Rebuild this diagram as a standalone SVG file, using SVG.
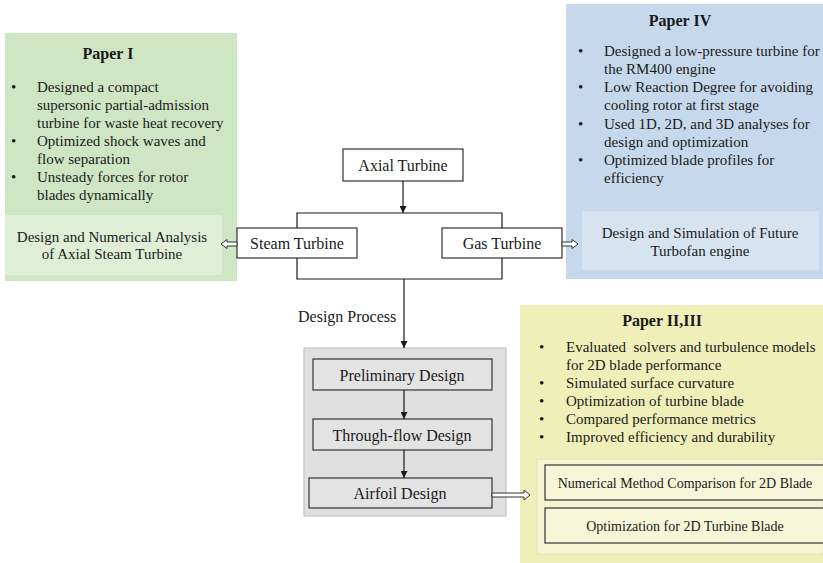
<svg xmlns="http://www.w3.org/2000/svg" width="823" height="563" viewBox="0 0 823 563">
<style>
  text { font-family: "Liberation Serif", "Times New Roman", serif; fill: #1a1a1a; }
  .title { font-size: 16px; font-weight: bold; text-anchor: middle; }
  .bul { font-size: 15px; }
  .lbl { font-size: 16px; text-anchor: middle; }
  .sub { font-size: 15px; text-anchor: middle; }
  .sm { font-size: 14px; text-anchor: middle; }
  .box { fill: #ffffff; stroke: #333333; stroke-width: 1.2; }
  .gbox { fill: #e3e3e3; stroke: #333333; stroke-width: 1.2; }
  .ybox { fill: #f6f6d8; stroke: #333333; stroke-width: 1.2; }
  .line { fill: none; stroke: #1a1a1a; stroke-width: 1.2; }
  .hollow { fill: #ffffff; stroke: #333333; stroke-width: 1; }
</style>
<defs>
  <marker id="ah" viewBox="0 0 10 10" refX="10" refY="5" markerWidth="7" markerHeight="7" markerUnits="userSpaceOnUse" orient="auto">
    <path d="M0,0 L10,5 L0,10 Z" fill="#1a1a1a"/>
  </marker>
</defs>

<g id="paper1">
  <rect x="5" y="33" width="232" height="248" fill="#cfe6c4"/>
  <rect x="5" y="215" width="217" height="60" fill="#deefd6"/>
  <text class="title" x="108" y="59">Paper I</text>
  <text class="bul" x="11" y="92">•</text>
  <text class="bul" x="37" y="92">Designed a compact</text>
  <text class="bul" x="37" y="110">supersonic partial-admission</text>
  <text class="bul" x="37" y="128">turbine for waste heat recovery</text>
  <text class="bul" x="11" y="146">•</text>
  <text class="bul" x="37" y="146">Optimized shock waves and</text>
  <text class="bul" x="37" y="164">flow separation</text>
  <text class="bul" x="11" y="182">•</text>
  <text class="bul" x="37" y="182">Unsteady forces for rotor</text>
  <text class="bul" x="37" y="200">blades dynamically</text>
  <text class="sub" x="112" y="242">Design and Numerical Analysis</text>
  <text class="sub" x="112" y="259">of Axial Steam Turbine</text>
</g>

<g id="paper4">
  <rect x="566" y="4" width="257" height="275" fill="#c6d9ec"/>
  <rect x="582" y="211" width="237" height="59" fill="#d6e4f1"/>
  <text class="title" x="680" y="26">Paper IV</text>
  <text class="bul" x="578" y="56">•</text>
  <text class="bul" x="604" y="56">Designed a low-pressure turbine for</text>
  <text class="bul" x="604" y="74">the RM400 engine</text>
  <text class="bul" x="578" y="92">•</text>
  <text class="bul" x="604" y="92">Low Reaction Degree for avoiding</text>
  <text class="bul" x="604" y="110">cooling rotor at first stage</text>
  <text class="bul" x="578" y="129">•</text>
  <text class="bul" x="604" y="129">Used 1D, 2D, and 3D analyses for</text>
  <text class="bul" x="604" y="147">design and optimization</text>
  <text class="bul" x="578" y="165">•</text>
  <text class="bul" x="604" y="165">Optimized blade profiles for</text>
  <text class="bul" x="604" y="183">efficiency</text>
  <text class="sub" x="700" y="238">Design and Simulation of Future</text>
  <text class="sub" x="700" y="256">Turbofan engine</text>
</g>

<g id="paper23">
  <rect x="520" y="305" width="303" height="258" fill="#eff0b9"/>
  <rect x="537" y="459" width="286" height="95" fill="#f5f5d3" stroke="#e2e2c0" stroke-width="1"/>
  <text class="title" x="662" y="326">Paper II,III</text>
  <text class="bul" x="539" y="352">•</text>
  <text class="bul" x="566" y="352" xml:space="preserve">Evaluated  solvers and turbulence models</text>
  <text class="bul" x="566" y="370">for 2D blade performance</text>
  <text class="bul" x="539" y="388">•</text>
  <text class="bul" x="566" y="388">Simulated surface curvature</text>
  <text class="bul" x="539" y="406">•</text>
  <text class="bul" x="566" y="406">Optimization of turbine blade</text>
  <text class="bul" x="539" y="424">•</text>
  <text class="bul" x="566" y="424">Compared performance metrics</text>
  <text class="bul" x="539" y="442">•</text>
  <text class="bul" x="566" y="442">Improved efficiency and durability</text>
</g>

<g id="numerical">
  <rect class="ybox" x="545" y="465" width="280" height="35"/>
  <text class="sm" x="685" y="488">Numerical Method Comparison for 2D Blade</text>
</g>
<g id="optimization">
  <rect class="ybox" x="545" y="508" width="280" height="35"/>
  <text class="sm" x="685" y="531">Optimization for 2D Turbine Blade</text>
</g>

<g id="axial">
  <rect class="box" x="343" y="149" width="120" height="32"/>
  <text class="lbl" x="403" y="171">Axial Turbine</text>
</g>
<g id="steam">
  <rect class="box" x="237" y="228" width="120" height="30"/>
  <text class="lbl" x="297" y="249">Steam Turbine</text>
</g>
<g id="gas">
  <rect class="box" x="442" y="228" width="120" height="30"/>
  <text class="lbl" x="502" y="249">Gas Turbine</text>
</g>

<g id="design-process-group">
  <rect x="304" y="348" width="202" height="168" fill="#e0e0e0" stroke="#c4c4c4" stroke-width="1.2"/>
</g>
<g id="preliminary">
  <rect class="gbox" x="313" y="359" width="179" height="31"/>
  <text class="lbl" x="402" y="381">Preliminary Design</text>
</g>
<g id="throughflow">
  <rect class="gbox" x="313" y="419" width="179" height="31"/>
  <text class="lbl" x="402" y="441">Through-flow Design</text>
</g>
<g id="airfoil">
  <rect class="gbox" x="309" y="478" width="183" height="30"/>
  <text class="lbl" x="400" y="499">Airfoil Design</text>
</g>

<g id="connectors">
  <line class="line" x1="403" y1="181" x2="403" y2="213" marker-end="url(#ah)"/>
  <polyline class="line" points="297,228 297,213 502,213 502,228"/>
  <polyline class="line" points="297,258 297,279 502,279 502,258"/>
  <line class="line" x1="404" y1="279" x2="404" y2="348" marker-end="url(#ah)"/>
  <text x="298" y="322" style="font-size:16px">Design Process</text>
  <line class="line" x1="404" y1="390" x2="404" y2="419" marker-end="url(#ah)"/>
  <line class="line" x1="404" y1="450" x2="404" y2="478" marker-end="url(#ah)"/>
  <path class="hollow" d="M237,242 L227,242 L227,239.5 L221,244 L227,248.5 L227,246 L237,246 Z"/>
  <path class="hollow" d="M562,242 L572,242 L572,239.5 L578,244 L572,248.5 L572,246 L562,246 Z"/>
  <path class="hollow" d="M492,493 L524,493 L524,490 L530,495 L524,500 L524,497 L492,497 Z"/>
</g>
</svg>
